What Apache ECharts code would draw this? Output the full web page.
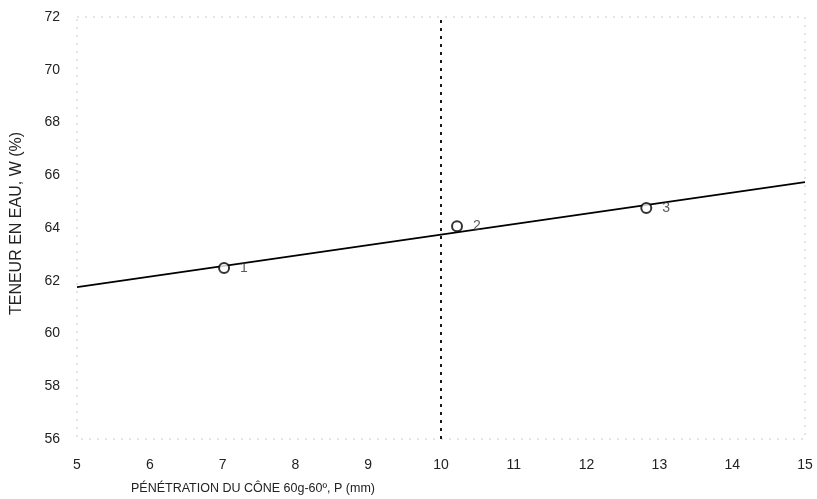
<!DOCTYPE html>
<html><head><meta charset="utf-8">
<script src="https://cdn.jsdelivr.net/npm/echarts@6/dist/echarts.min.js"></script>
<style>html,body{margin:0;padding:0;background:#fff}#c{width:817px;height:499px}</style>
</head><body><div id="c"></div>
<script>
const pointsX = [7.02, 10.22, 12.82];
const pointsY = [62.48, 64.07, 64.76];
const pointLabels = ['1', '2', '3'];
const fitX = [5, 15];
const fitY = [61.76, 65.74];
const liquidLimitP = 10;
const xTicks = [5, 6, 7, 8, 9, 10, 11, 12, 13, 14, 15];
const yTicks = [56, 58, 60, 62, 64, 66, 68, 70, 72];

const font = 'Liberation Sans, Arial, sans-serif';
const chart = echarts.init(document.getElementById('c'));
chart.setOption({
  animation: false,
  grid: {left: 77, right: 12, top: 17, bottom: 60, show: true, borderColor: '#c8c8c8', borderWidth: 1, borderType: [2, 6]},
  xAxis: {
    type: 'value', min: xTicks[0], max: xTicks[xTicks.length-1], interval: 1,
    name: 'PÉNÉTRATION DU CÔNE 60g-60º, P (mm)', nameLocation: 'start',
    nameGap: 0,
    nameTextStyle: {color: '#222', fontSize: 12.5, fontFamily: font, align: 'left', verticalAlign: 'top', padding: [43, 0, 0, 54]},
    axisLine: {show: false}, axisTick: {show: false}, splitLine: {show: false},
    axisLabel: {color: '#222', fontSize: 14, fontFamily: font, margin: 19}
  },
  yAxis: {
    type: 'value', min: yTicks[0], max: yTicks[yTicks.length-1], interval: 2,
    name: 'TENEUR EN EAU, W (%)', nameLocation: 'middle', nameGap: 52,
    nameTextStyle: {color: '#222', fontSize: 16, fontFamily: font, padding: [0, 0, 0, 9]},
    axisLine: {show: false}, axisTick: {show: false}, splitLine: {show: false},
    axisLabel: {color: '#222', fontSize: 14, fontFamily: font, margin: 17}
  },
  series: [
    {
      type: 'line', data: fitX.map((x, i) => [x, fitY[i]]), showSymbol: false,
      lineStyle: {color: '#000', width: 1.8}, silent: true,
      markLine: {
        silent: true, symbol: 'none', label: {show: false},
        lineStyle: {color: '#000', type: [3, 5], width: 1.8},
        data: [{xAxis: liquidLimitP}]
      }
    },
    {
      type: 'scatter', data: pointsX.map((x, i) => [x, pointsY[i], pointLabels[i]]),
      symbol: 'circle', symbolSize: 10,
      itemStyle: {color: '#fff', borderColor: '#000', borderWidth: 2},
      label: {show: true, position: 'right', distance: 10, color: '#333', fontSize: 14, fontFamily: font,
        formatter: p => p.data[2]},
      z: 5
    }
  ]
});
</script></body></html>
